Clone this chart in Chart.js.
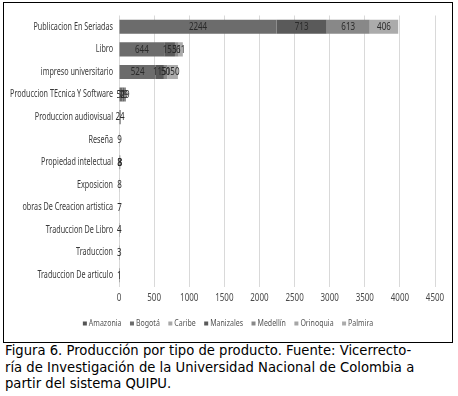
<!DOCTYPE html>
<html>
<head>
<meta charset="utf-8">
<script src="https://cdn.jsdelivr.net/npm/chart.js@4/dist/chart.umd.min.js"></script>
<style>
  html, body { margin: 0; padding: 0; background: #fff; width: 458px; height: 396px; overflow: hidden; }
  #box { position: absolute; left: 3px; top: 2px; width: 448px; height: 339px; border: 1.5px solid #000; }
  #box canvas { display: block; }
  #caption { position: absolute; left: 5px; top: 343px; width: 452px; font-family: "DejaVu Sans", sans-serif; font-size: 13.2px; line-height: 16.5px; color: #000; white-space: nowrap; }
</style>
</head>
<body>
<div id="box"><canvas id="c" width="448" height="339"></canvas></div>
<div id="caption">Figura 6. Producción por tipo de producto. Fuente: Vicerrecto-<br>ría de Investigación de la Universidad Nacional de Colombia a<br>partir del sistema QUIPU.</div>
<script>
const categories = [
  "Publicacion En Seriadas", "Libro", "impreso universitario", "Produccion TEcnica Y Software",
  "Produccion audiovisual", "Reseña", "Propiedad intelectual", "Exposicion",
  "obras De Creacion artistica", "Traduccion De Libro", "Traduccion", "Traduccion De articulo"
];
const seriesNames = ["Amazonia", "Bogotá", "Caribe", "Manizales", "Medellín", "Orinoquia", "Palmira"];
const amazonia  = [null, null, null, null, null, null, null, null, null, null, null, null];
const bogota    = [2244, 644, 524, 51, 24, 9, 8, 8, 7, 4, 3, 1];
const caribe    = [null, null, null, null, null, null, null, null, null, null, null, null];
const manizales = [713, 153, 115, 19, null, null, 3, null, null, null, null, null];
const medellin  = [613, 51, 50, 29, null, null, 8, null, null, null, null, null];
const orinoquia = [null, null, null, null, null, null, null, null, null, null, null, null];
const palmira   = [406, 61, 150, null, null, null, null, null, null, null, null, null];
const xTicks = [0, 500, 1000, 1500, 2000, 2500, 3000, 3500, 4000, 4500];

const seriesValues = [amazonia, bogota, caribe, manizales, medellin, orinoquia, palmira];
const colors = ["#555555", "#6c6c6c", "#a8a8a8", "#5a5a5a", "#888888", "#a6a6a6", "#ababab"];

const FONT = "'Noto Sans', sans-serif";

function drawCondensed(ctx, text, x, y, align, size, color, sx) {
  ctx.save();
  ctx.font = size + "px " + FONT;
  ctx.fillStyle = color;
  ctx.textBaseline = "middle";
  ctx.textAlign = align;
  ctx.translate(x, y);
  ctx.scale(sx, 1);
  ctx.fillText(text, 0, 0);
  ctx.restore();
}
function condensedWidth(ctx, text, size, sx) {
  ctx.save();
  ctx.font = size + "px " + FONT;
  const w = ctx.measureText(text).width * sx;
  ctx.restore();
  return w;
}

const textPlugin = {
  id: 'condensedText',
  afterDatasetsDraw(chart) {
    const ctx = chart.ctx;
    chart.data.datasets.forEach((ds, i) => {
      const meta = chart.getDatasetMeta(i);
      meta.data.forEach((el, j) => {
        const v = ds.data[j];
        if (v === null || v === undefined) return;
        drawCondensed(ctx, String(v), (el.x + el.base) / 2, el.y + 0.5, "center", 10, "#2a2a2a", 0.8);
      });
    });
  },
  afterDraw(chart) {
    const ctx = chart.ctx;
    const ys = chart.scales.y, xs = chart.scales.x, area = chart.chartArea;
    chart.data.labels.forEach((lab, i) => {
      drawCondensed(ctx, lab, area.left - 6, ys.getPixelForValue(i), "right", 10, "#3a3a3a", 0.72);
    });
    xTicks.forEach(v => {
      drawCondensed(ctx, String(v), xs.getPixelForValue(v), area.bottom + 12, "center", 10, "#4a4a4a", 0.8);
    });
    const size = 9, box = 4, gapBox = 2, gapItem = 8.5, sx = 0.78;
    const widths = seriesNames.map(n => box + gapBox + condensedWidth(ctx, n, size, sx));
    const total = widths.reduce((a, b) => a + b, 0) + gapItem * (seriesNames.length - 1);
    let x = (chart.width - total) / 2;
    const ly = area.bottom + 37;
    seriesNames.forEach((n, i) => {
      ctx.fillStyle = colors[i];
      ctx.fillRect(x, ly - box / 2, box, box);
      drawCondensed(ctx, n, x + box + gapBox, ly, "left", size, "#555", sx);
      x += widths[i] + gapItem;
    });
  }
};

new Chart(document.getElementById('c'), {
  type: 'bar',
  data: {
    labels: categories,
    datasets: seriesNames.map((n, i) => ({
      label: n,
      data: seriesValues[i],
      backgroundColor: colors[i],
      borderWidth: 0,
      barPercentage: 0.62,
      categoryPercentage: 1.0
    }))
  },
  options: {
    indexAxis: 'y',
    responsive: false,
    animation: false,
    layout: { padding: { left: 0, right: 17, top: 12.5, bottom: 55.5 } },
    plugins: {
      legend: { display: false },
      tooltip: { enabled: false }
    },
    scales: {
      x: {
        stacked: true,
        min: 0, max: 4500,
        afterBuildTicks(scale) { scale.ticks = xTicks.map(v => ({ value: v })); },
        ticks: { display: false },
        grid: { color: "#d9d9d9", drawTicks: false },
        border: { display: false }
      },
      y: {
        stacked: true,
        afterFit(scale) { scale.width = 115; },
        ticks: { display: false },
        grid: { display: false },
        border: { display: false }
      }
    }
  },
  plugins: [textPlugin]
});
</script>
</body>
</html>
